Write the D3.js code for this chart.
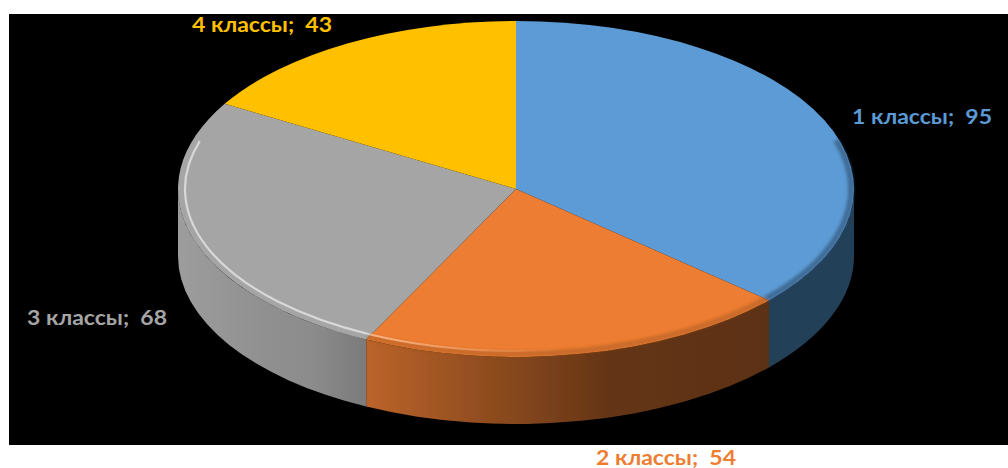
<!DOCTYPE html>
<html><head><meta charset="utf-8">
<script src="https://cdn.jsdelivr.net/npm/d3@7"></script>
<style>html,body{margin:0;padding:0;background:#fff;}svg{display:block;}</style>
</head><body>
<svg id="chart" width="1008" height="468"></svg>
<script>
const categories = ["1 классы", "2 классы", "3 классы", "4 классы"];
const values = [95, 54, 68, 43];
const topColors = ["#5B9BD5", "#ED7D31", "#A5A5A5", "#FFC000"];
const labelColors = ["#5B9BD5", "#ED7D31", "#A5A5A5", "#FFC000"];

const W = 1008, H = 468;
const cx = 516, cy = 189, rx = 338, ry = 168, depth = 67;
const svg = d3.select("#chart");

const defs = svg.append("defs");
function grad(id, x1, x2, stops) {
  const g = defs.append("linearGradient").attr("id", id)
    .attr("gradientUnits", "userSpaceOnUse")
    .attr("x1", x1).attr("x2", x2).attr("y1", 0).attr("y2", 0);
  stops.forEach(s => g.append("stop").attr("offset", s[0]).attr("stop-color", s[1]));
}
grad("sideGrey", 178, 368, [[0, "#9d9d9d"], [0.45, "#909090"], [0.7, "#8c8c8c"], [1, "#7a7a7a"]]);
grad("sideOrange", 367, 770, [[0, "#bb632a"], [0.3, "#8f4c1f"], [0.6, "#643516"], [1, "#5c3113"]]);
grad("sideBlue", 770, 856, [[0, "#243f58"], [1, "#243f58"]]);
grad("sideYellow", 178, 856, [[0, "#8a6a00"], [1, "#8a6a00"]]);
const sideFills = ["url(#sideBlue)", "url(#sideOrange)", "url(#sideGrey)", "url(#sideYellow)"];

const f = defs.append("filter").attr("id", "soft").attr("x", "-10%").attr("y", "-10%").attr("width", "120%").attr("height", "120%");
f.append("feGaussianBlur").attr("stdDeviation", 1.8);
const f2 = defs.append("filter").attr("id", "edge").attr("x", "-10%").attr("y", "-10%").attr("width", "120%").attr("height", "120%");
f2.append("feGaussianBlur").attr("stdDeviation", 0.6);

const oGrad = defs.append("linearGradient").attr("id", "hlOrange")
  .attr("gradientUnits", "userSpaceOnUse").attr("x1", 367).attr("x2", 560).attr("y1", 0).attr("y2", 0);
oGrad.append("stop").attr("offset", 0).attr("stop-color", "#ffc49a").attr("stop-opacity", 0.8);
oGrad.append("stop").attr("offset", 1).attr("stop-color", "#ffc49a").attr("stop-opacity", 0);

svg.append("rect").attr("x", 9).attr("y", 14).attr("width", W - 9).attr("height", 431).attr("fill", "#000");

const pie = d3.pie().sort(null).value(d => d);
const arcs = pie(values);

function P(a, dx = 0, dy = 0, rrx = rx, rry = ry) {
  return [cx + rrx * Math.sin(a) + dx, cy - rry * Math.cos(a) + dy];
}

// sides (front half: angles between PI/2 and 3PI/2)
const sideG = svg.append("g").attr("filter", "url(#edge)");
arcs.forEach((d, i) => {
  const s = Math.max(d.startAngle, Math.PI / 2);
  const e = Math.min(d.endAngle, 3 * Math.PI / 2);
  if (e <= s) return;
  const p0 = P(s), p1 = P(e), q1 = P(e, 0, depth), q0 = P(s, 0, depth);
  const path = `M${p0}A${rx},${ry} 0 0 1 ${p1}L${q1}A${rx},${ry} 0 0 0 ${q0}Z`;
  sideG.append("path").attr("d", path).attr("fill", sideFills[i]);
});

// top surface
const topG = svg.append("g").attr("filter", "url(#edge)");
arcs.forEach((d, i) => {
  const p0 = P(d.startAngle), p1 = P(d.endAngle);
  const large = (d.endAngle - d.startAngle) > Math.PI ? 1 : 0;
  const path = `M${cx},${cy}L${p0}A${rx},${ry} 0 ${large} 1 ${p1}Z`;
  topG.append("path").attr("d", path).attr("fill", topColors[i]);
});

// bevel: darker soft rim at front edge of blue and orange
const bevel = svg.append("g").attr("filter", "url(#soft)");
[[0, "#2c4d6c", 0.6], [1, "#8a4717", 0.35]].forEach(([i, col, op]) => {
  const d = arcs[i];
  const s = Math.max(d.startAngle, Math.PI / 2 - 0.3);
  const e = Math.min(d.endAngle, 3 * Math.PI / 2);
  const r1 = rx - 3, r2 = ry - 3;
  const a = P(s, 0, 0, r1, r2), b = P(e, 0, 0, r1, r2);
  bevel.append("path").attr("d", `M${a}A${r1},${r2} 0 0 1 ${b}`)
    .attr("fill", "none").attr("stroke", col).attr("stroke-opacity", op).attr("stroke-width", 6);
});

// highlight line on grey and start of orange
const hl = svg.append("g").attr("filter", "url(#edge)");
const hrx = rx - 7, hry = ry - 6;
const g0 = P(arcs[2].startAngle, 0, 0, hrx, hry);
const g1 = P(3 * Math.PI / 2 + 0.3, 0, 0, hrx, hry);
hl.append("path").attr("d", `M${g0}A${hrx},${hry} 0 0 1 ${g1}`)
  .attr("fill", "none").attr("stroke", "#e8e8e8").attr("stroke-opacity", 0.75).attr("stroke-width", 2.2);
const o0 = P(arcs[1].startAngle + 0.5, 0, 0, hrx, hry);
hl.append("path").attr("d", `M${o0}A${hrx},${hry} 0 0 1 ${P(arcs[1].endAngle, 0, 0, hrx, hry)}`)
  .attr("fill", "none").attr("stroke", "url(#hlOrange)").attr("stroke-width", 2.2);

// labels
const labelPos = [[852, 124], [596, 465], [27, 325], [192, 32]];
const lg = svg.append("g");
arcs.forEach((d, i) => {
  lg.append("text")
    .attr("x", labelPos[i][0]).attr("y", labelPos[i][1])
    .attr("fill", labelColors[i])
    .attr("font-family", "Lato, 'Open Sans', sans-serif")
    .attr("font-weight", "bold").attr("font-size", 21)
    .attr("textLength", 140).attr("lengthAdjust", "spacingAndGlyphs")
    .style("white-space", "pre")
    .text(categories[i] + ";  " + values[i]);
});
</script>
</body></html>
